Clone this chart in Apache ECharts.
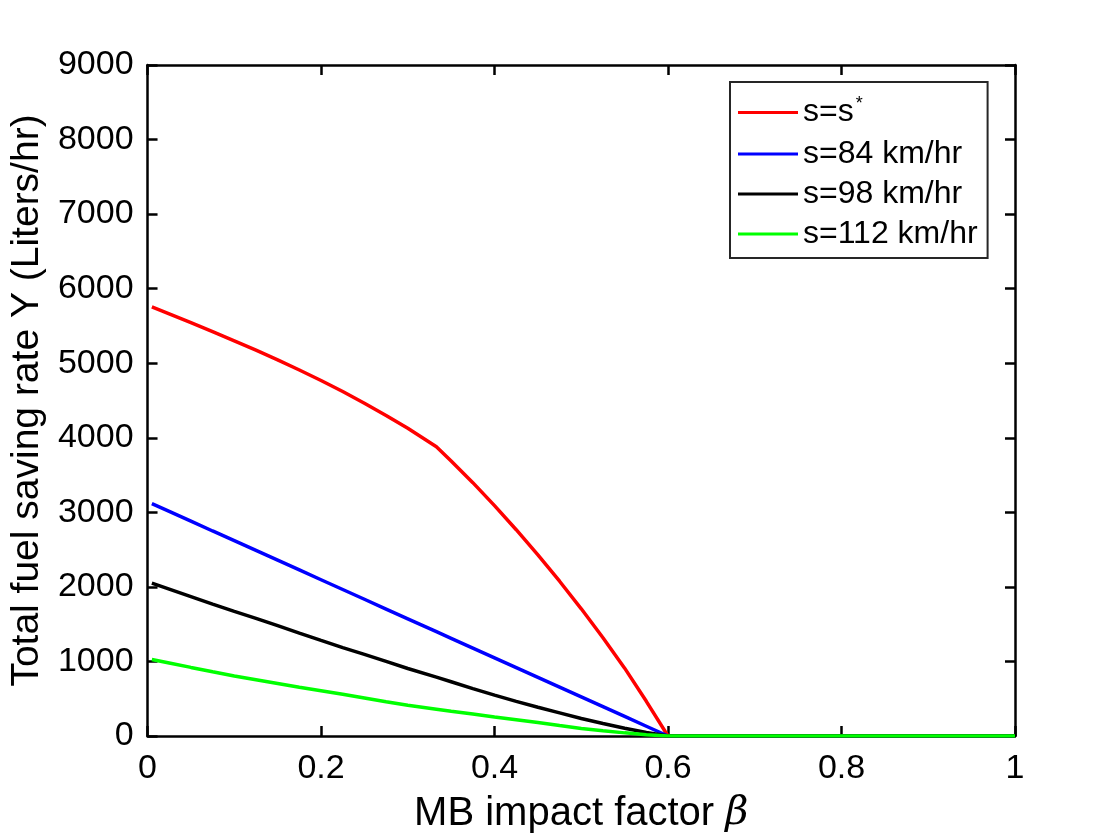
<!DOCTYPE html>
<html>
<head>
<meta charset="utf-8">
<script src="https://cdn.jsdelivr.net/npm/echarts@6/dist/echarts.min.js"></script>
<style>
  html, body { margin: 0; padding: 0; background: #fff; }
  #chart { width: 1120px; height: 840px; }
</style>
</head>
<body>
<div id="chart"></div>
<script>
// beta values (x) shared by all curves
var beta = [0.005, 0.025, 0.05, 0.075, 0.1, 0.125, 0.15, 0.175, 0.2, 0.225, 0.25, 0.275, 0.3, 0.333,
            0.35, 0.375, 0.4, 0.425, 0.45, 0.475, 0.5, 0.525, 0.55, 0.575, 0.6, 0.8, 1.0];

var sStar = [5756, 5662, 5544, 5424, 5301, 5175, 5045, 4909, 4768, 4620, 4464, 4300, 4127, 3880,
             3690, 3398, 3090, 2767, 2429, 2076, 1706, 1318, 910, 465, 0, 0, 0];
var s84   = [3117, 3012, 2881, 2750, 2620, 2489, 2358, 2227, 2096, 1965, 1834, 1703, 1572, 1399,
             1310, 1179, 1048, 917, 786, 655, 524, 393, 262, 131, 0, 0, 0];
var s98   = [2050, 1970, 1870, 1770, 1672, 1578, 1480, 1380, 1282, 1185, 1095, 1000, 905, 790,
             728, 635, 548, 465, 385, 310, 235, 168, 105, 48, 0, 0, 0];
var s112  = [1027, 980, 920, 862, 805, 755, 705, 655, 608, 560, 510, 460, 412, 360,
             333, 295, 256, 218, 180, 140, 102, 70, 42, 18, 0, 0, 0];

var seriesNames = ['s=s*', 's=84 km/hr', 's=98 km/hr', 's=112 km/hr'];
var seriesColors = ['#ff0000', '#0000ff', '#000000', '#00ff00'];
var seriesValues = [sStar, s84, s98, s112];

function pairs(vals) {
  return beta.map(function (b, i) { return [b, vals[i]]; });
}

var font = 'Liberation Sans, Arial, Helvetica, sans-serif';

var series = seriesNames.map(function (n, k) {
  return {
    name: n,
    type: 'line',
    data: pairs(seriesValues[k]),
    showSymbol: false,
    symbol: 'none',
    lineStyle: { color: seriesColors[k], width: 3.5 },
    itemStyle: { color: seriesColors[k] },
    xAxisIndex: 0,
    yAxisIndex: 0
  };
});

var myChart = echarts.init(document.getElementById('chart'));

function axisStyle() {
  return {
    axisLine: { show: true, onZero: false, lineStyle: { color: '#000', width: 2.5 } },
    axisTick: { show: true, inside: true, length: 10, lineStyle: { color: '#000', width: 2.5 } },
    splitLine: { show: false }
  };
}

myChart.setOption({
  backgroundColor: '#fff',
  animation: false,
  textStyle: { fontFamily: font },
  grid: { left: 146, right: 105, top: 65, bottom: 104 },
  legend: {
    orient: 'vertical',
    left: 730,
    top: 82,
    data: seriesNames,
    icon: 'rect',
    itemWidth: 60,
    itemHeight: 3,
    itemGap: 8,
    padding: [13, 10, 8, 8],
    borderColor: '#262626',
    borderWidth: 2,
    borderRadius: 0,
    backgroundColor: '#fff',
    formatter: function (n) {
      if (n === 's=s*') return '{t|s=s}{sup|*}';
      return '{t|' + n + '}';
    },
    textStyle: {
      color: '#000',
      fontFamily: font,
      fontSize: 32,
      rich: {
        t: { fontSize: 32, lineHeight: 32, fontFamily: font, color: '#000' },
        sup: { fontSize: 18, lineHeight: 14, fontFamily: font, color: '#000', padding: [0, 0, 17, 2] }
      }
    }
  },
  xAxis: [
    Object.assign(axisStyle(), {
      type: 'value',
      min: 0,
      max: 1,
      interval: 0.2,
      position: 'bottom',
      name: '{n|MB impact factor }{b|β}',
      nameLocation: 'middle',
      nameGap: 58,
      nameTextStyle: {
        rich: {
          n: { fontSize: 40, fontFamily: font, color: '#000' },
          b: { fontSize: 40, fontFamily: 'DejaVu Serif, serif', fontStyle: 'italic', color: '#000' }
        }
      },
      axisLabel: { color: '#000', fontSize: 34, fontFamily: font, margin: 16 }
    }),
    Object.assign(axisStyle(), {
      type: 'value',
      min: 0,
      max: 1,
      interval: 0.2,
      position: 'top',
      axisLabel: { show: false }
    })
  ],
  yAxis: [
    Object.assign(axisStyle(), {
      type: 'value',
      min: 0,
      max: 9000,
      interval: 1000,
      position: 'left',
      name: 'Total fuel saving rate Y (Liters/hr)',
      nameLocation: 'middle',
      nameGap: 98,
      nameTextStyle: { fontSize: 39, fontFamily: font, color: '#000' },
      axisLabel: {
        color: '#000', fontSize: 34, fontFamily: font, margin: 14,
        formatter: function (v) { return String(v); }
      }
    }),
    Object.assign(axisStyle(), {
      type: 'value',
      min: 0,
      max: 9000,
      interval: 1000,
      position: 'right',
      axisLabel: { show: false }
    })
  ],
  series: series
});
</script>
</body>
</html>
